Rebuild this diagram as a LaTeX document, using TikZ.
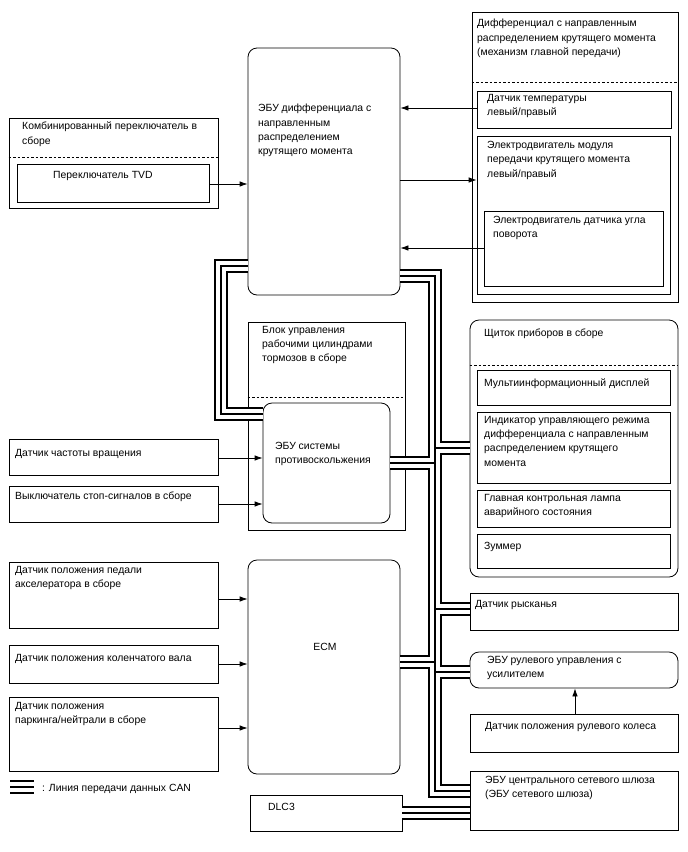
\documentclass[tikz,border=0pt]{standalone}
\usepackage{fontspec}
\setmainfont{Liberation Sans}
\usetikzlibrary{fit,arrows.meta}
\newcommand\bx[6][]{\node[boxst,#1,fit={(#3,#4)(#5,#6)}] (#2) {};}
\newcommand\tx[4]{\node[txt] (#1) at (#2,#3) {#4};}
\newcommand\canpaths[1]{%
  \draw[#1] (tvd.east |- 0,276) -- (435,276) -- (435,791) -- (gw.west |- 0,791);
  \draw[#1] (435,448) -- (clus.west |- 0,448);
  \draw[#1] (anti.east |- 0,463) -- (435,463);
  \draw[#1] (435,609) -- (yaw.west |- 0,609);
  \draw[#1] (ecm.east |- 0,662) -- (435,662);
  \draw[#1] (435,672) -- (eps.west |- 0,672);
  \draw[#1] (dlc.east |- 0,813) -- (gw.west |- 0,813);
  \draw[#1] (tvd.west |- 0,266) -- (221,266) -- (221,414) -- (anti.west |- 0,414);
  \draw[#1] (legA) -- (legB);
}
\begin{document}
\begin{tikzpicture}[x=1pt,y=-1pt,
  boxst/.style={draw=black, line width=0.8pt, inner sep=0pt},
  rbox/.style={rounded corners=9pt},
  txt/.style={anchor=north west, inner sep=0pt, align=left, font=\fontsize{10.4}{14.3}\selectfont, yshift=6pt, execute at begin node=\strut},
  arr/.style={line width=0.8pt, -{Latex[length=8pt,width=5.5pt]}},
  dashln/.style={line width=0.8pt, dash pattern=on 2.5pt off 2pt},
  busA/.style={line width=14.5pt, line join=miter},
  busB/.style={line width=10.5pt, white, line join=miter},
  busC/.style={line width=1.2pt, line join=miter}]
\useasboundingbox[fill=white] (0,0) rectangle (688,852);

% top right differential block
\bx{diff}{472}{12}{678}{302}
\draw[dashln] (diff.west |- 0,82) -- (diff.east |- 0,82);
\bx{temp}{477}{91}{671}{128}
\bx{mot}{477}{136}{670}{294}
\bx{ang}{484}{211}{663}{286}
\tx{diffT}{477}{25}{Дифференциал с направленным\\распределением крутящего момента\\(механизм главной передачи)}
\tx{tempT}{487}{100}{Датчик температуры\\левый/правый}
\tx{motT}{487}{147}{Электродвигатель модуля\\передачи крутящего момента\\левый/правый}
\tx{angT}{493}{222}{Электродвигатель датчика угла\\поворота}

% combined switch
\bx{comb}{9}{118}{218}{208}
\draw[dashln] (comb.west |- 0,157) -- (comb.east |- 0,157);
\bx{tvdsw}{17}{164}{209}{202}
\tx{combT}{22}{128}{Комбинированный переключатель в\\сборе}
\tx{tvdswT}{53}{174}{Переключатель TVD}

% TVD ECU
\bx[rbox]{tvd}{248}{48}{400}{295}
\tx{tvdT}{258}{110}{ЭБУ дифференциала с\\направленным\\распределением\\крутящего момента}

% brake block
\bx{brake}{248}{322}{405}{530}
\draw[dashln] (brake.west |- 0,397) -- (brake.east |- 0,397);
\tx{brakeT}{262}{332}{Блок управления\\рабочими цилиндрами\\тормозов в сборе}
\bx[rbox]{anti}{263}{403}{390}{523}
\tx{antiT}{275}{448}{ЭБУ системы\\противоскольжения}

% left sensors
\bx{speed}{9}{439}{218}{475}
\tx{speedT}{15}{452}{Датчик частоты вращения}
\bx{stop}{9}{486}{218}{522}
\tx{stopT}{15}{495}{Выключатель стоп-сигналов в сборе}
\bx{pedal}{9}{562}{218}{628}
\tx{pedalT}{15}{572}{Датчик положения педали\\акселератора в сборе}
\bx{crank}{9}{645}{218}{683}
\tx{crankT}{15}{657}{Датчик положения коленчатого вала}
\bx{park}{9}{697}{218}{771}
\tx{parkT}{15}{708}{Датчик положения\\паркинга/нейтрали в сборе}

% ECM and DLC3
\bx[rbox]{ecm}{248}{560}{400}{774}
\node[font=\fontsize{10.4}{14.3}\selectfont] (ecmT) at (325,647) {ECM};
\bx{dlc}{250}{795}{402}{831}
\tx{dlcT}{268}{806}{DLC3}

% cluster
\bx[rbox]{clus}{470}{320}{678}{577}
\draw[dashln] (clus.west |- 0,365) -- (clus.east |- 0,365);
\tx{clusT}{484}{332}{Щиток приборов в сборе}
\bx{multi}{477}{370}{670}{405}
\tx{multiT}{484}{382}{Мультиинформационный дисплей}
\bx{ind}{477}{412}{670}{483}
\tx{indT}{484}{422}{Индикатор управляющего режима\\дифференциала с направленным\\распределением крутящего\\момента}
\bx{lamp}{477}{490}{670}{527}
\tx{lampT}{484}{500}{Главная контрольная лампа\\аварийного состояния}
\bx{buzz}{477}{534}{670}{568}
\tx{buzzT}{484}{545}{Зуммер}

% right lower
\bx{yaw}{470}{593}{678}{630}
\tx{yawT}{475}{603}{Датчик рысканья}
\bx[rbox]{eps}{470}{652}{678}{688}
\tx{epsT}{487}{662}{ЭБУ рулевого управления с\\усилителем}
\bx{sws}{470}{714}{678}{752}
\tx{swsT}{485}{725}{Датчик положения рулевого колеса}
\bx{gw}{470}{771}{678}{830}
\tx{gwT}{485}{782}{ЭБУ центрального сетевого шлюза\\(ЭБУ сетевого шлюза)}

% arrows
\draw[arr] (temp.west |- 0,108) -- (tvd.east |- 0,108);
\draw[arr] (tvd.east |- 0,180) -- (mot.west |- 0,180);
\draw[arr] (ang.west |- 0,248) -- (tvd.east |- 0,248);
\draw[arr] (tvdsw.east |- 0,184) -- (tvd.west |- 0,184);
\draw[arr] (speed.east |- 0,458) -- (anti.west |- 0,458);
\draw[arr] (stop.east |- 0,504) -- (anti.west |- 0,504);
\draw[arr] (pedal.east |- 0,599) -- (ecm.west |- 0,599);
\draw[arr] (crank.east |- 0,664) -- (ecm.west |- 0,664);
\draw[arr] (park.east |- 0,728) -- (ecm.west |- 0,728);
\draw[arr] (sws.north -| 575,0) -- (eps.south -| 575,0);

% legend
\coordinate (legA) at (10,787);
\coordinate (legB) at (34,787);
\tx{legT}{42}{787}{: Линия передачи данных CAN}

% CAN buses
\canpaths{busA}
\canpaths{busB}
\canpaths{busC}
\end{tikzpicture}
\end{document}
